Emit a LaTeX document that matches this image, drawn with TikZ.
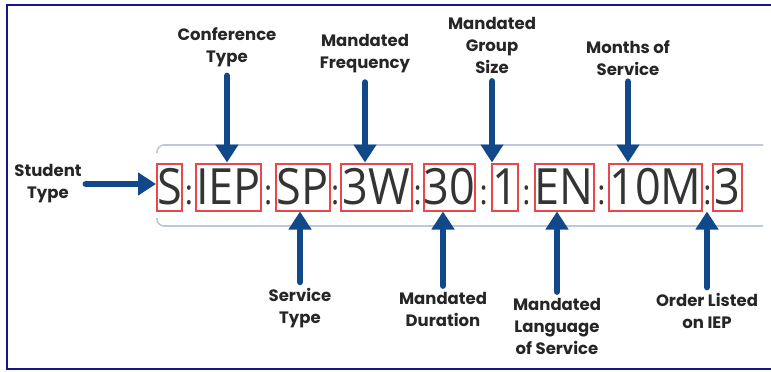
\documentclass[tikz,border=0pt]{standalone}
\usepackage{fontspec}
\setmainfont{Open Sans}
\newfontfamily\codefont{Open Sans}[FakeStretch=0.9]
\newfontfamily\tagfont{Poppins}
\usetikzlibrary{arrows.meta,positioning,calc}

\definecolor{framenavy}{RGB}{22,22,138}
\definecolor{arrowblue}{RGB}{16,72,138}
\definecolor{boxred}{RGB}{232,72,76}
\definecolor{railgray}{RGB}{192,199,220}
\definecolor{codegray}{RGB}{52,52,52}

\tikzstyle{codebox} = [rectangle, draw=boxred, line width=2pt, minimum height=47pt, inner sep=0pt, text=codegray, font=\codefont\fontsize{50}{50}\selectfont]
\tikzstyle{colonmark} = [anchor=base, inner sep=0pt, text=codegray, font=\codefont\fontsize{34}{34}\selectfont]
\tikzstyle{tagtext} = [align=center, inner sep=0pt, text=black!85, font=\tagfont\bfseries\fontsize{16.5}{22}\selectfont]
\tikzstyle{arrow} = [line width=6.5pt, draw=arrowblue, line cap=round, -{Triangle[length=18pt,width=22pt]}]
\tikzstyle{rail} = [line width=1.6pt, draw=railgray, rounded corners=7pt]

\begin{document}
\begin{tikzpicture}[x=1pt, y=-1pt]
\useasboundingbox (0,0) rectangle (771,372);

% frame, open on the right
\draw [line width=2.6pt, draw=framenavy] (790,5) -| (7,369) -- (790,369);

% rails above and below the code
\draw [rail] (157,153) |- (763,145);
\draw [rail] (157,218) |- (763,226);

% the code, one box per field
\node (s) [codebox, minimum width=25pt] at (169.5,187) {S};
\node (iep) [codebox, minimum width=64pt, right=12pt of s] {IEP};
\node (sp) [codebox, minimum width=54pt, right=13pt of iep] {SP};
\node (freq) [codebox, minimum width=71pt, right=9pt of sp] {3W};
\node (dur) [codebox, minimum width=50pt, right=10pt of freq] {30};
\node (grp) [codebox, minimum width=23pt, right=15pt of dur] {1};
\node (lang) [codebox, minimum width=59pt, right=15pt of grp] {EN};
\node (months) [codebox, minimum width=93pt, right=13pt of lang] {10M};
\node (ord) [codebox, minimum width=29pt, right=9pt of months] {3};

% separators
\node (c1) [colonmark] at ($(s.base east)!0.5!(iep.base west)$) {:};
\node (c2) [colonmark] at ($(iep.base east)!0.5!(sp.base west)$) {:};
\node (c3) [colonmark] at ($(sp.base east)!0.5!(freq.base west)$) {:};
\node (c4) [colonmark] at ($(freq.base east)!0.5!(dur.base west)$) {:};
\node (c5) [colonmark] at ($(dur.base east)!0.5!(grp.base west)$) {:};
\node (c6) [colonmark] at ($(grp.base east)!0.5!(lang.base west)$) {:};
\node (c7) [colonmark] at ($(lang.base east)!0.5!(months.base west)$) {:};
\node (c8) [colonmark] at ($(months.base east)!0.5!(ord.base west)$) {:};

% labels above
\node (conftype) [tagtext] at (227,47) {Conference\\Type};
\node (freqtag) [tagtext] at (365,54) {Mandated\\Frequency};
\node (grptag) [tagtext] at (492,45) {Mandated\\Group\\Size};
\node (monthstag) [tagtext] at (628,58) {Months of\\Service};

% labels below and left
\node (sttype) [tagtext] at (48,184) {Student\\Type};
\node (svctype) [tagtext] at (300,308) {Service\\Type};
\node (durtag) [tagtext] at (443,309) {Mandated\\Duration};
\node (langtag) [tagtext] at (557,326) {Mandated\\Language\\of Service};
\node (ordtag) [tagtext] at (707,311) {Order Listed\\on IEP};

% arrows down
\draw [arrow, shorten <=9pt] (conftype.south) -- (conftype.south |- iep.north);
\draw [arrow, shorten <=9pt] (freqtag.south) -- (freqtag.south |- freq.north);
\draw [arrow, shorten <=8pt] (grptag.south) -- (grptag.south |- grp.north);
\draw [arrow, shorten <=6pt] (monthstag.south) -- (monthstag.south |- months.north);

% arrows up and across
\draw [arrow, shorten <=4pt] (sttype.east) -- (sttype.east -| s.west);
\draw [arrow, shorten <=6pt] (svctype.north) -- (svctype.north |- sp.south);
\draw [arrow, shorten <=6pt] (durtag.north) -- (durtag.north |- dur.south);
\draw [arrow, shorten <=6pt] (langtag.north) -- (langtag.north |- lang.south);
\draw [arrow, shorten <=6pt] (ordtag.north) -- (ordtag.north |- ord.south);

\end{tikzpicture}
\end{document}
